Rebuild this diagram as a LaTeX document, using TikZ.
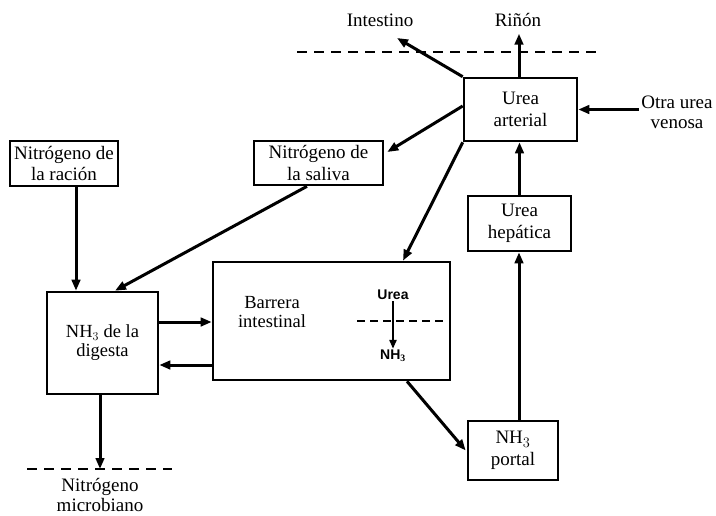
\documentclass[tikz,border=0pt]{standalone}
\usepackage{fontspec}
\setmainfont{Liberation Serif}
\newfontfamily\labelsans{Liberation Sans}
\usetikzlibrary{calc,arrows.meta}

\begin{document}
\begin{tikzpicture}[x=1pt,y=-1pt,
  box/.style={draw, line width=2.6pt, inner sep=0pt, align=center,
              font=\fontsize{19}{21.5}\selectfont},
  lbl/.style={inner sep=2pt, align=center, font=\fontsize{19}{20}\selectfont},
  small/.style={inner sep=1pt, font=\labelsans\bfseries\fontsize{14}{15}\selectfont},
  arr/.style={line width=3pt, -{Triangle[length=11pt,width=8.5pt]}},
  border/.style={line width=2pt, dash pattern=on 10pt off 7pt},
]
\useasboundingbox (0,0) rectangle (716,515);
\fill[white] (0,0) rectangle (716,515);

% boxes
\node[box, minimum width=108pt, minimum height=45pt] (racion) at (64,163.5) {Nitrógeno de\\la ración};
\node[box, minimum width=129pt, minimum height=44pt] (saliva) at (318.5,163) {Nitrógeno de\\la saliva};
\node[box, minimum width=113pt, minimum height=63pt] (arterial) at (520.5,109.5) {Urea\\arterial};
\node[box, minimum width=103pt, minimum height=55pt] (hepatica) at (519.5,223.5) {Urea\\hepática};
\node[box, minimum width=111pt, minimum height=102pt, font=\fontsize{18.5}{19}\selectfont] (digesta) at (102.5,343) {NH$_3$ de la\\digesta};
\node[box, minimum width=237pt, minimum height=118pt] (barrera) at (331.5,321) {};
\node[box, minimum width=90pt, minimum height=59pt] (portal) at (513,450.5) {NH$_3$\\portal};

% text inside the intestinal barrier
\node[lbl, font=\fontsize{18.5}{19.5}\selectfont] (barreratxt) at (272,312) {Barrera\\intestinal};
\node[small] (ureain) at (393,295) {Urea};
\node[small] (nhin) at (393,356) {NH$_{\mathbf{3}}$};
\coordinate (memL) at (357,321);
\coordinate (memR) at (447,321);
\draw[border, dash pattern=on 8pt off 5pt] (memL) -- (memR);
\draw[line width=2.4pt, -{Triangle[length=9pt,width=7pt]}] (ureain.south) -- (ureain.south |- nhin.north);

% outer labels
\node[lbl] (intestino) at (380,20) {Intestino};
\node[lbl] (rinon) at (518,20) {Riñón};
\node[lbl] (otra) at (677,112) {Otra urea\\venosa};
\node[lbl] (microb) at (100,495) {Nitrógeno\\microbiano};

% dashed boundaries
\coordinate (topL) at (297,52);
\coordinate (topR) at (602,52);
\draw[border] (topL) -- (topR);
\coordinate (botL) at (27,469);
\coordinate (botR) at (172,469);
\draw[border] (botL) -- (botR);

% connector end points
\coordinate (intTip) at (397,38);
\coordinate (rinonFoot) at ($(arterial.north)+(-1.5,0)$);
\coordinate (rinonTip) at ($(arterial.north)+(-1.5,-43)$);
\coordinate (portalTop) at ($(portal.north)+(6,0)$);
\coordinate (racionFoot) at ($(racion.south)+(12,0)$);
\coordinate (digestaFoot) at ($(digesta.south)+(-2.5,0)$);

% connectors
\draw[arr] (arterial.north west) -- (intTip);
\draw[arr] (rinonFoot) -- (rinonTip);
\draw[arr] (otra.west |- arterial.east) -- (arterial.east);
\draw[arr] ($(arterial.west)+(0,-3.5)$) -- ($(saliva.east)+(3,-11)$);
\draw[arr] (arterial.south west) -- ($(barrera.north)+(71.5,0)$);
\draw[arr] (hepatica.north) -- (hepatica.north |- arterial.south);
\draw[arr] (portalTop) -- (portalTop |- hepatica.south);
\draw[arr] (racionFoot) -- (racionFoot |- digesta.north);
\draw[arr] ($(saliva.south)+(-11.5,0)$) -- ($(digesta.north)+(12.5,0)$);
\draw[arr] ($(digesta.east)+(0,-21)$) -- ($(barrera.west)+(0,1)$);
\draw[arr] ($(barrera.west)+(0,44)$) -- ($(digesta.east)+(0,22)$);
\draw[arr] ($(barrera.south)+(75.5,0)$) -- ($(portal.west)+(-1,0)$);
\draw[arr] (digestaFoot) -- (digestaFoot |- botL);
\end{tikzpicture}
\end{document}
